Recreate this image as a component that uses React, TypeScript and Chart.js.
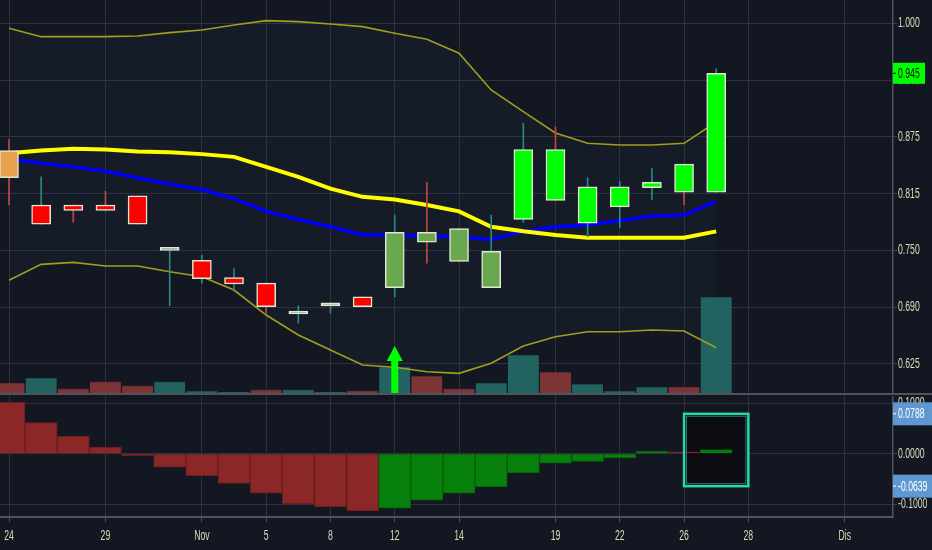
import React, { useEffect, useRef } from 'react';
import { Chart, registerables } from 'chart.js';

Chart.register(...registerables);

// ---------------- data ----------------
const dates = ['24 Okt', '25 Okt', '26 Okt', '29 Okt', '30 Okt', '31 Okt', '1 Nov', '2 Nov', '5 Nov', '7 Nov', '8 Nov', '9 Nov', '12 Nov', '13 Nov', '14 Nov', '15 Nov', '16 Nov', '19 Nov', '21 Nov', '22 Nov', '23 Nov', '26 Nov', '27 Nov'];
const openP = [0.860, 0.800, 0.800, 0.800, 0.810, 0.750, 0.739, 0.720, 0.714, 0.680, 0.689, 0.699, 0.709, 0.759, 0.738, 0.709, 0.784, 0.805, 0.780, 0.798, 0.819, 0.814, 0.814];
const highP = [0.872, 0.831, 0.800, 0.815, 0.810, 0.750, 0.745, 0.730, 0.714, 0.689, 0.689, 0.699, 0.789, 0.825, 0.774, 0.789, 0.890, 0.886, 0.830, 0.826, 0.840, 0.845, 0.950];
const lowP = [0.800, 0.779, 0.781, 0.794, 0.779, 0.689, 0.714, 0.705, 0.681, 0.670, 0.681, 0.688, 0.699, 0.736, 0.738, 0.709, 0.781, 0.805, 0.765, 0.775, 0.806, 0.800, 0.814];
const closeP = [0.830, 0.779, 0.794, 0.794, 0.779, 0.750, 0.719, 0.713, 0.688, 0.680, 0.689, 0.688, 0.770, 0.770, 0.774, 0.749, 0.861, 0.861, 0.820, 0.820, 0.825, 0.845, 0.945];
// tick direction (1 up, -1 down) used for volume and wick colouring
const tickDir = [-1, 1, -1, -1, -1, 1, 1, 1, -1, 1, 1, -1, 1, -1, -1, 1, 1, -1, 1, 1, 1, -1, 1];
const volume = [4.0, 6.0, 1.7, 4.5, 2.9, 4.5, 0.8, 0.3, 1.3, 1.3, 0.3, 0.9, 10.4, 6.7, 1.7, 4.0, 15.2, 8.3, 3.5, 0.8, 2.4, 2.4, 38.3];
// moving averages start one session earlier (index -1)
const maSlow = [0.850, 0.857, 0.860, 0.862, 0.861, 0.859, 0.858, 0.856, 0.853, 0.842, 0.831, 0.818, 0.809, 0.806, 0.800, 0.793, 0.776, 0.771, 0.767, 0.764, 0.764, 0.764, 0.764, 0.771];
const maFast = [0.854, 0.851, 0.846, 0.842, 0.837, 0.830, 0.823, 0.817, 0.807, 0.793, 0.784, 0.776, 0.767, 0.767, 0.766, 0.765, 0.762, 0.771, 0.776, 0.778, 0.783, 0.788, 0.789, 0.804];
const bbUpper = [0.9945, 0.9853, 0.9853, 0.9853, 0.9860, 0.9897, 0.9926, 0.9981, 1.0029, 1.0018, 0.9992, 0.9963, 0.9890, 0.9824, 0.9670, 0.9266, 0.9027, 0.8793, 0.8679, 0.8660, 0.8660, 0.8679, 0.8914];
const bbLower = [0.7172, 0.7347, 0.7369, 0.7329, 0.7329, 0.7266, 0.7211, 0.7064, 0.6789, 0.6569, 0.6404, 0.6239, 0.6214, 0.6165, 0.6147, 0.6258, 0.6448, 0.6550, 0.6605, 0.6605, 0.6624, 0.6613, 0.6429];
const macdHist = [0.1014, 0.0616, 0.0344, 0.0131, -0.0012, -0.0266, -0.0431, -0.0584, -0.0775, -0.0982, -0.1048, -0.1127, -0.1074, -0.0915, -0.0775, -0.0650, -0.0378, -0.0187, -0.0153, -0.0080, 0.0052, 0.0010, 0.0080];
const buySignals = [12];
const boxFrom = 21;
const boxTo = 23;
const boxTop = 0.0788;
const boxBottom = -0.0639;

const xTickPos = [0, 3, 6, 8, 10, 12, 14, 17, 19, 21, 23, 26];
const xTickLabels = ['24', '29', 'Nov', '5', '8', '12', '14', '19', '22', '26', '28', 'Dis'];
const priceTicks = [0.625, 0.6875, 0.75, 0.8125, 0.875, 0.9375, 1.0];
const priceTickLabels = ['0.625', '0.690', '0.750', '0.815', '0.875', '0.940', '1.000'];
const macdTicks = [-0.1, 0, 0.1];
const macdTickLabels = ['-0.1000', '0.0000', '0.1000'];

// ---------------- style ----------------
const BG = '#131722';
const GRID = '#2e323d';
const AXIS = '#50535e';
const TXT = '#dadcb6';
const FONT = "'Liberation Sans', Arial, sans-serif";
const FONT_SIZE = 14;
const SQUEEZE = 0.62;
const X_MIN = -0.28;
const X_MAX = 27.5;
const AXIS_W = 39;

const idx = openP.map((_, i) => i);

function bodyColor(i: number) {
  const o = openP[i];
  const c = closeP[i];
  if (c === o) return '#e3ead6';
  if (c > o) return c > maSlow[i + 1] ? '#00ff00' : '#6aa84f';
  return o > maSlow[i + 1] ? '#e9a04b' : '#ff0000';
}

const gridCommon = {
  color: GRID,
  borderDash: [4, 4],
  tickBorderDash: [1, 0],
  tickColor: AXIS,
  lineWidth: 1,
  offset: false,
};

const xTicksBuilder = (s: any) => {
  s.ticks = xTickPos.map((v) => ({ value: v }));
};

// draw tick labels horizontally condensed (the library still lays out and renders them)
function squeezeLabels(s: any) {
  if (s.__squeezed) return;
  s.__squeezed = true;
  const orig = s.drawLabels;
  s.drawLabels = function (area: any) {
    const ctx = this.ctx;
    const rot = ctx.rotate;
    ctx.rotate = function (a: number) {
      rot.call(this, a);
      this.scale(SQUEEZE, 1);
    };
    try {
      orig.call(this, area);
    } finally {
      delete ctx.rotate;
    }
  };
}

function zeroPad(s: any) {
  s.paddingTop = 0;
  s.paddingBottom = 0;
  s.paddingLeft = 0;
  s.paddingRight = 0;
}

function badge(ctx: CanvasRenderingContext2D, x: number, y: number, w: number, h: number, fill: string, color: string, text: string) {
  ctx.save();
  ctx.fillStyle = fill;
  ctx.fillRect(x, y - h / 2, w, h);
  ctx.strokeStyle = color;
  ctx.lineWidth = 1;
  ctx.beginPath();
  ctx.moveTo(x, y);
  ctx.lineTo(x + 3, y);
  ctx.stroke();
  ctx.fillStyle = color;
  ctx.font = `${FONT_SIZE}px ${FONT}`;
  ctx.textBaseline = 'middle';
  ctx.textAlign = 'left';
  ctx.translate(x + 5, y + 0.5);
  ctx.scale(SQUEEZE, 1);
  ctx.fillText(text, 0, 0);
  ctx.restore();
}

const mainPlugin = {
  id: 'mainExtras',
  afterDatasetsDraw(chart: any) {
    const { ctx, chartArea, scales } = chart;
    ctx.save();
    ctx.fillStyle = '#00ff00';
    for (const i of buySignals) {
      const px = scales.x.getPixelForValue(i);
      const b = chartArea.bottom;
      ctx.beginPath();
      ctx.moveTo(px - 3.5, b);
      ctx.lineTo(px - 3.5, b - 32);
      ctx.lineTo(px - 8, b - 32);
      ctx.lineTo(px, b - 47);
      ctx.lineTo(px + 8, b - 32);
      ctx.lineTo(px + 3.5, b - 32);
      ctx.lineTo(px + 3.5, b);
      ctx.closePath();
      ctx.fill();
    }
    ctx.restore();
  },
  afterDraw(chart: any) {
    const { ctx, chartArea, scales } = chart;
    ctx.save();
    ctx.fillStyle = AXIS;
    ctx.fillRect(0, chartArea.bottom, chart.width, 2);
    ctx.restore();
    const last = closeP[closeP.length - 1];
    const y = scales.y.getPixelForValue(last);
    badge(ctx, chartArea.right, y, 32, 21, '#00ff00', '#111111', last.toFixed(3));
  },
};

const macdPlugin = {
  id: 'macdExtras',
  beforeDatasetsDraw(chart: any) {
    const { ctx, scales } = chart;
    const x0 = scales.x.getPixelForValue(boxFrom);
    const x1 = scales.x.getPixelForValue(boxTo);
    const y0 = scales.y.getPixelForValue(boxTop);
    const y1 = scales.y.getPixelForValue(boxBottom);
    ctx.save();
    ctx.fillStyle = '#0b0d13';
    ctx.fillRect(x0, y0, x1 - x0, y1 - y0);
    ctx.restore();
  },
  afterDatasetsDraw(chart: any) {
    const { ctx, scales } = chart;
    const x0 = scales.x.getPixelForValue(boxFrom);
    const x1 = scales.x.getPixelForValue(boxTo);
    const y0 = scales.y.getPixelForValue(boxTop);
    const y1 = scales.y.getPixelForValue(boxBottom);
    ctx.save();
    ctx.strokeStyle = '#3c6f6c';
    ctx.lineWidth = 1;
    ctx.strokeRect(x0 + 2.5, y0 + 2.5, x1 - x0 - 5, y1 - y0 - 5);
    ctx.strokeStyle = '#20dca2';
    ctx.lineWidth = 2.5;
    ctx.strokeRect(x0, y0, x1 - x0, y1 - y0);
    ctx.restore();
  },
  afterDraw(chart: any) {
    const { ctx, chartArea, scales } = chart;
    badge(ctx, chartArea.right, scales.y.getPixelForValue(boxTop), AXIS_W, 23, '#5f97d1', '#ffffff', boxTop.toFixed(4));
    badge(ctx, chartArea.right, scales.y.getPixelForValue(boxBottom), AXIS_W, 23, '#5f97d1', '#ffffff', boxBottom.toFixed(4));
  },
};

const tickFont = { family: FONT, size: FONT_SIZE };

function mainConfig(): any {
  return {
    type: 'bar',
    data: {
      labels: dates,
      datasets: [
        {
          type: 'bar',
          label: 'Candle body',
          data: idx.map((i) => ({ x: i, y: [openP[i], closeP[i]] })),
          backgroundColor: idx.map(bodyColor),
          borderColor: '#dfe8d2',
          borderWidth: 1.5,
          borderSkipped: false,
          barThickness: 19,
          minBarLength: 3,
          grouped: false,
          order: 0,
        },
        {
          type: 'bar',
          label: 'Candle wick',
          data: idx.map((i) => ({ x: i, y: [lowP[i], highP[i]] })),
          backgroundColor: idx.map((i) => (tickDir[i] > 0 ? '#2c8682' : '#c24646')),
          borderWidth: 0,
          barThickness: 1,
          grouped: false,
          order: 1,
        },
        {
          type: 'line',
          label: 'MA slow',
          data: maSlow.map((v, k) => ({ x: k - 1, y: v })),
          borderColor: '#ffff00',
          borderWidth: 4,
          pointRadius: 0,
          tension: 0,
          fill: false,
          order: 2,
        },
        {
          type: 'line',
          label: 'MA fast',
          data: maFast.map((v, k) => ({ x: k - 1, y: v })),
          borderColor: '#0000ff',
          borderWidth: 3.5,
          pointRadius: 0,
          tension: 0,
          fill: false,
          order: 3,
        },
        {
          type: 'line',
          label: 'BB upper',
          data: idx.map((i) => ({ x: i, y: bbUpper[i] })),
          borderColor: '#a09e1f',
          borderWidth: 1.6,
          pointRadius: 0,
          tension: 0,
          fill: '+1',
          backgroundColor: 'rgba(40, 80, 90, 0.1)',
          order: 4,
        },
        {
          type: 'line',
          label: 'BB lower',
          data: idx.map((i) => ({ x: i, y: bbLower[i] })),
          borderColor: '#a09e1f',
          borderWidth: 1.6,
          pointRadius: 0,
          tension: 0,
          fill: false,
          order: 5,
        },
        {
          type: 'bar',
          label: 'Volume',
          yAxisID: 'vol',
          data: idx.map((i) => ({ x: i, y: volume[i] })),
          backgroundColor: idx.map((i) => (tickDir[i] > 0 ? '#226261' : '#7c3437')),
          borderColor: idx.map((i) => (tickDir[i] > 0 ? '#1a4b4b' : '#5e282b')),
          borderWidth: { top: 1, left: 0, right: 0, bottom: 0 },
          borderSkipped: 'bottom',
          barThickness: 31,
          grouped: false,
          order: 6,
        },
      ],
    },
    options: {
      responsive: false,
      animation: false,
      devicePixelRatio: 1,
      events: [],
      layout: { padding: 0 },
      plugins: {
        legend: { display: false },
        tooltip: { enabled: false },
        filler: { drawTime: 'beforeDatasetsDraw' },
      },
      scales: {
        x: {
          type: 'linear',
          offset: false,
          min: X_MIN,
          max: X_MAX,
          afterBuildTicks: xTicksBuilder,
          ticks: { display: false },
          grid: { ...gridCommon, drawTicks: false },
          border: { display: false },
          afterFit: (s: any) => {
            s.height = 3;
            zeroPad(s);
          },
        },
        y: {
          type: 'linear',
          position: 'right',
          min: 0.59307,
          max: 1.02565,
          afterBuildTicks: (s: any) => {
            s.ticks = priceTicks.map((v) => ({ value: v }));
          },
          ticks: {
            color: TXT,
            font: tickFont,
            padding: 1,
            callback: (_v: any, i: number) => priceTickLabels[i],
          },
          grid: { ...gridCommon, drawTicks: true, tickLength: 4 },
          border: { display: true, color: AXIS, width: 1.5 },
          afterFit: (s: any) => {
            s.width = AXIS_W;
            zeroPad(s);
            squeezeLabels(s);
          },
        },
        vol: {
          type: 'linear',
          display: false,
          min: 0,
          max: Math.max(...volume) * 4.1,
        },
      },
    },
    plugins: [mainPlugin],
  };
}

function macdConfig(): any {
  return {
    type: 'bar',
    data: {
      labels: dates,
      datasets: [
        {
          label: 'MACD histogram',
          data: idx.map((i) => ({ x: i, y: macdHist[i] })),
          backgroundColor: idx.map((i) => (i > 0 && macdHist[i] > macdHist[i - 1] ? '#07800c' : '#8b2727')),
          borderColor: idx.map((i) => (i > 0 && macdHist[i] > macdHist[i - 1] ? '#05610a' : '#6a1d1f')),
          borderWidth: 1,
          borderSkipped: 'start',
          barThickness: 32,
          minBarLength: 2,
          grouped: false,
        },
      ],
    },
    options: {
      responsive: false,
      animation: false,
      devicePixelRatio: 1,
      events: [],
      layout: { padding: 0 },
      plugins: {
        legend: { display: false },
        tooltip: { enabled: false },
      },
      scales: {
        x: {
          type: 'linear',
          offset: false,
          min: X_MIN,
          max: X_MAX,
          afterBuildTicks: xTicksBuilder,
          ticks: {
            color: TXT,
            font: tickFont,
            padding: 6,
            autoSkip: false,
            maxRotation: 0,
            callback: (_v: any, i: number) => xTickLabels[i],
          },
          grid: { ...gridCommon, drawTicks: true, tickLength: 5 },
          border: { display: true, color: AXIS, width: 2 },
          afterFit: (s: any) => {
            s.height = 33;
            zeroPad(s);
            squeezeLabels(s);
          },
        },
        y: {
          type: 'linear',
          position: 'right',
          min: -0.1247,
          max: 0.1139,
          afterBuildTicks: (s: any) => {
            s.ticks = macdTicks.map((v) => ({ value: v }));
          },
          ticks: {
            color: TXT,
            font: tickFont,
            padding: 1,
            callback: (_v: any, i: number) => macdTickLabels[i],
          },
          grid: { ...gridCommon, drawTicks: true, tickLength: 4 },
          border: { display: true, color: AXIS, width: 1.5 },
          afterFit: (s: any) => {
            s.width = AXIS_W;
            zeroPad(s);
            squeezeLabels(s);
          },
        },
      },
    },
    plugins: [macdPlugin],
  };
}

export default function App() {
  const topRef = useRef<HTMLCanvasElement>(null);
  const botRef = useRef<HTMLCanvasElement>(null);
  useEffect(() => {
    document.body.style.margin = '0';
    document.body.style.background = BG;
    const a = new Chart(topRef.current as HTMLCanvasElement, mainConfig());
    const b = new Chart(botRef.current as HTMLCanvasElement, macdConfig());
    return () => {
      a.destroy();
      b.destroy();
    };
  }, []);
  return (
    <div style={{ position: 'relative', width: 932, height: 550, background: BG, overflow: 'hidden' }}>
      <canvas ref={topRef} width={932} height={396} style={{ position: 'absolute', left: 0, top: 0 }} />
      <canvas ref={botRef} width={932} height={154} style={{ position: 'absolute', left: 0, top: 396 }} />
    </div>
  );
}
